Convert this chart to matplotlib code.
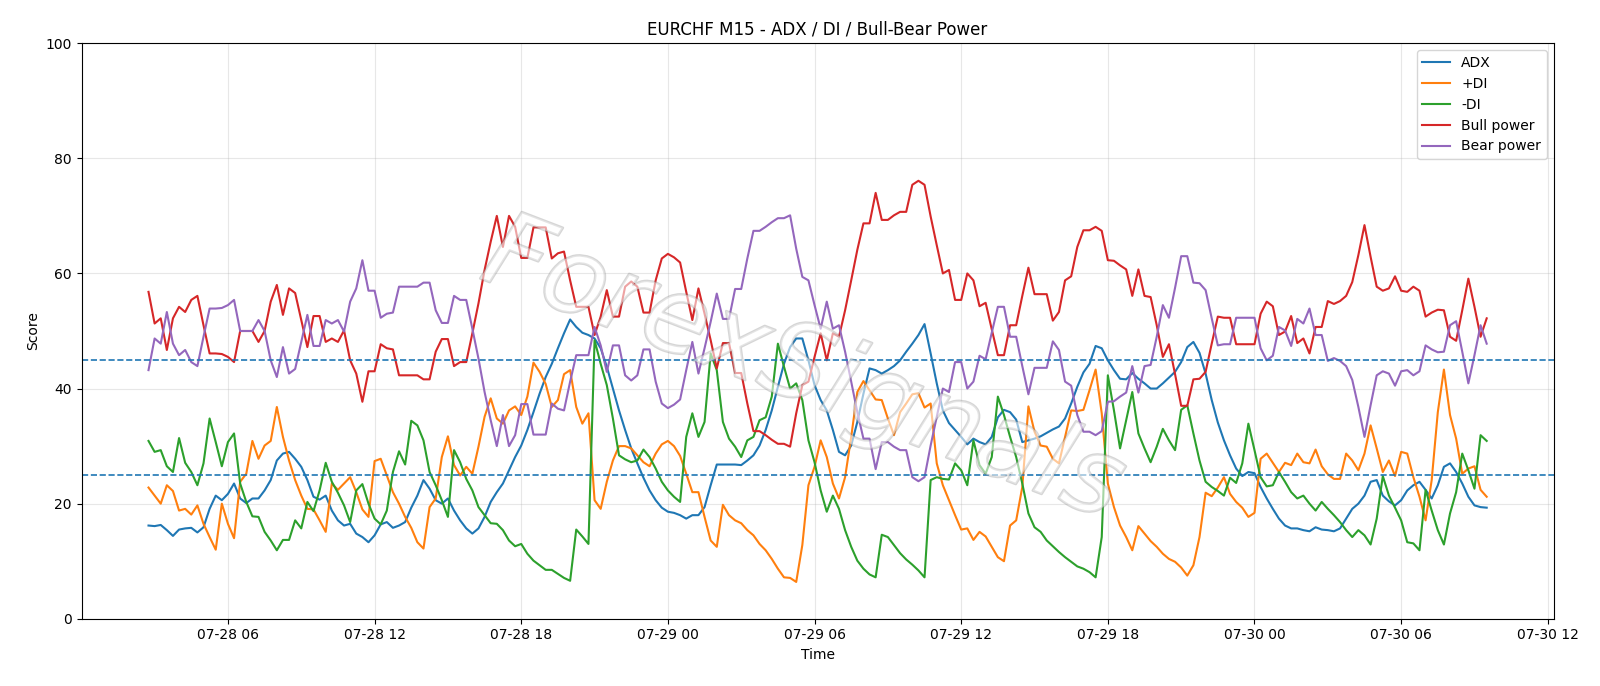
import pandas as pd
import matplotlib
matplotlib.use("Agg")
import matplotlib.pyplot as plt
import matplotlib.dates as mdates
import matplotlib.patheffects as pe

# EURCHF M15 bars, 07-28 02:45 -> 07-30 09:30
start_time = "2025-07-28 02:45"
bar_freq = "15min"

adx = [
    16.2, 16.1, 16.3, 15.4, 14.4, 15.5, 15.7, 15.8, 15.0, 15.9, 19.1, 21.4, 20.6, 21.7, 23.5, 20.9, 20.1, 20.9, 20.9, 22.3, 24.1, 27.5,
    28.7, 29.0, 27.8, 26.4, 24.1, 21.2, 20.7, 21.4, 18.8, 17.1, 16.2, 16.5, 14.8, 14.2, 13.3, 14.5, 16.4, 16.8, 15.8, 16.2, 16.8, 19.3,
    21.4, 24.1, 22.6, 20.6, 20.0, 20.9, 18.8, 17.1, 15.7, 14.8, 15.7, 17.7, 20.3, 22.0, 23.5, 25.8, 28.1, 30.1, 32.8, 35.9, 39.1, 42.0,
    44.3, 47.0, 49.6, 52.0, 50.7, 49.7, 49.3, 48.7, 47.0, 43.8, 40.0, 36.2, 32.8, 29.6, 27.0, 24.5, 22.3, 20.6, 19.3, 18.6, 18.4, 18.0,
    17.4, 18.0, 18.0, 19.4, 23.2, 26.8, 26.8, 26.8, 26.8, 26.7, 27.5, 28.4, 30.1, 32.8, 36.2, 40.3, 44.3, 47.2, 48.7, 48.7, 44.9, 40.6,
    38.0, 36.2, 32.8, 29.0, 28.4, 30.1, 34.2, 39.1, 43.5, 43.2, 42.6, 43.2, 43.9, 44.9, 46.4, 47.8, 49.3, 51.2, 46.1, 40.9, 36.2, 34.0,
    32.8, 31.6, 30.3, 31.3, 30.7, 30.3, 31.6, 35.0, 36.3, 35.9, 34.6, 30.7, 31.0, 31.3, 31.7, 32.3, 32.9, 33.4, 34.8, 37.4, 40.3, 42.8,
    44.3, 47.4, 47.0, 44.9, 43.2, 41.7, 41.6, 42.7, 41.7, 40.9, 40.0, 40.0, 40.9, 41.9, 42.9, 44.6, 47.2, 48.1, 46.2, 42.6, 38.0, 34.1,
    31.0, 28.4, 26.1, 24.8, 25.5, 25.3, 22.9, 20.9, 19.1, 17.4, 16.2, 15.7, 15.7, 15.4, 15.2, 15.9, 15.5, 15.4, 15.2, 15.7, 17.4, 19.1,
    20.0, 21.4, 23.8, 24.1, 21.4, 20.4, 19.7, 20.6, 22.3, 23.2, 23.8, 22.4, 20.9, 23.2, 26.4, 27.0, 25.5, 23.5, 21.2, 19.7, 19.4, 19.3,
]

plus_di = [
    22.8, 21.4, 20.0, 23.2, 22.2, 18.8, 19.1, 18.1, 19.7, 16.5, 14.2, 12.0, 20.0, 16.5, 14.0, 23.8, 25.2, 30.9, 27.8, 30.1, 30.9, 36.8,
    31.6, 27.5, 24.1, 21.4, 19.1, 19.0, 17.1, 15.1, 23.5, 22.4, 23.5, 24.6, 22.0, 19.0, 17.7, 27.4, 27.8, 24.9, 22.0, 20.0, 17.7, 15.8,
    13.3, 12.2, 19.4, 20.9, 28.1, 31.7, 26.7, 24.9, 26.4, 25.2, 29.9, 35.1, 38.3, 34.8, 33.9, 36.2, 36.9, 35.4, 38.6, 44.5, 42.9, 40.8,
    36.8, 38.0, 42.5, 43.2, 36.8, 33.9, 35.7, 20.6, 19.1, 23.8, 27.5, 30.0, 30.0, 29.6, 28.4, 27.2, 26.5, 28.7, 30.3, 30.9, 30.0, 28.3,
    25.2, 22.0, 22.0, 17.7, 13.6, 12.5, 19.8, 18.0, 17.1, 16.6, 15.4, 14.5, 13.0, 11.9, 10.4, 8.7, 7.2, 7.1, 6.4, 12.8, 23.2, 26.4,
    31.0, 28.1, 23.5, 20.9, 24.6, 31.6, 39.4, 41.3, 39.7, 38.1, 38.0, 34.8, 31.9, 35.9, 37.4, 39.0, 39.2, 36.7, 37.4, 27.0, 23.2, 20.6,
    18.0, 15.5, 15.7, 13.7, 15.1, 14.3, 12.5, 10.7, 10.0, 16.2, 17.1, 22.9, 36.9, 32.5, 30.1, 29.9, 27.8, 27.0, 31.6, 36.2, 36.1, 36.3,
    39.7, 43.3, 35.7, 23.5, 19.4, 16.2, 14.2, 11.9, 16.1, 14.8, 13.5, 12.5, 11.3, 10.4, 9.9, 8.9, 7.5, 9.3, 14.2, 21.9, 21.3, 22.8,
    24.6, 21.7, 20.3, 19.3, 17.7, 18.4, 27.8, 28.7, 27.1, 25.5, 27.1, 26.7, 28.7, 27.2, 27.0, 29.4, 26.5, 25.1, 24.3, 24.3, 28.7, 27.5,
    25.8, 28.7, 33.6, 29.6, 25.5, 27.5, 24.8, 29.0, 28.7, 24.6, 21.2, 17.1, 24.1, 35.9, 43.3, 35.4, 31.3, 25.2, 26.1, 26.5, 22.4, 21.2,
]

minus_di = [
    30.9, 29.0, 29.3, 26.5, 25.5, 31.4, 27.1, 25.5, 23.2, 27.0, 34.8, 30.7, 26.5, 30.7, 32.2, 23.5, 20.3, 17.8, 17.7, 15.1, 13.6, 11.9,
    13.7, 13.7, 17.1, 15.7, 20.3, 18.7, 22.3, 27.1, 23.8, 21.9, 19.7, 16.8, 22.3, 23.4, 20.0, 17.4, 16.4, 18.8, 25.5, 29.1, 26.8, 34.4,
    33.6, 31.0, 25.5, 23.2, 20.6, 17.7, 29.3, 27.2, 24.3, 22.3, 19.4, 18.0, 16.6, 16.5, 15.4, 13.6, 12.6, 13.0, 11.3, 10.1, 9.3, 8.5,
    8.5, 7.8, 7.1, 6.6, 15.5, 14.3, 13.0, 48.4, 44.3, 40.6, 34.8, 28.4, 27.7, 27.2, 27.5, 29.4, 28.1, 26.1, 23.8, 22.3, 21.2, 20.3,
    31.6, 35.7, 31.6, 34.2, 46.1, 43.2, 34.2, 31.3, 29.9, 28.1, 31.0, 31.6, 34.5, 35.0, 38.6, 47.8, 43.8, 40.0, 40.9, 38.0, 31.0, 27.2,
    22.3, 18.6, 21.4, 19.1, 15.4, 12.5, 10.1, 8.7, 7.7, 7.2, 14.6, 14.2, 12.8, 11.4, 10.3, 9.4, 8.4, 7.2, 24.1, 24.6, 24.3, 24.2,
    27.0, 25.8, 23.2, 31.0, 26.7, 25.2, 28.1, 38.6, 35.4, 31.6, 28.1, 23.5, 18.3, 15.9, 15.1, 13.6, 12.6, 11.6, 10.7, 9.9, 9.1, 8.7,
    8.1, 7.2, 14.2, 42.3, 36.2, 29.6, 34.5, 39.4, 32.2, 29.6, 27.2, 29.9, 33.0, 31.0, 29.3, 36.3, 37.1, 32.2, 27.5, 23.8, 22.9, 22.2,
    21.4, 24.5, 23.6, 27.0, 33.9, 29.3, 24.6, 23.0, 23.2, 25.5, 23.8, 22.0, 20.9, 21.4, 20.0, 18.8, 20.3, 19.1, 18.0, 16.8, 15.4, 14.2,
    15.4, 14.5, 12.9, 17.4, 24.8, 21.4, 19.3, 17.1, 13.3, 13.1, 11.9, 22.4, 18.8, 15.4, 12.9, 18.3, 22.0, 28.7, 25.8, 22.6, 31.9, 30.9,
]

bull_power = [
    56.8, 51.3, 52.2, 46.7, 52.2, 54.2, 53.3, 55.4, 56.1, 51.0, 46.1, 46.1, 46.0, 45.5, 44.6, 50.0, 50.0, 50.0, 48.1, 50.0, 55.1, 58.0,
    52.8, 57.4, 56.6, 51.9, 47.2, 52.6, 52.6, 48.1, 48.7, 48.1, 50.1, 44.9, 42.6, 37.7, 43.0, 43.0, 47.7, 47.0, 46.8, 42.3, 42.3, 42.3,
    42.3, 41.6, 41.6, 46.4, 48.6, 48.6, 43.9, 44.6, 44.6, 49.6, 54.8, 60.6, 65.5, 70.0, 64.6, 70.0, 68.1, 62.7, 62.7, 68.0, 68.0, 68.0,
    62.6, 63.5, 63.8, 58.8, 54.2, 54.2, 54.2, 49.3, 52.5, 57.1, 52.5, 52.5, 57.7, 58.6, 57.7, 53.2, 53.2, 58.8, 62.6, 63.4, 62.8, 61.9,
    56.8, 51.9, 57.4, 53.0, 48.4, 43.5, 47.9, 47.9, 42.7, 42.7, 37.4, 32.6, 32.6, 31.9, 31.1, 30.4, 30.4, 29.9, 35.7, 40.6, 41.2, 45.5,
    49.6, 44.9, 49.6, 49.0, 53.6, 58.8, 64.1, 68.7, 68.7, 74.0, 69.3, 69.3, 70.1, 70.7, 70.7, 75.4, 76.1, 75.4, 69.9, 64.9, 60.0, 60.6,
    55.4, 55.4, 60.0, 58.8, 54.3, 54.9, 50.3, 45.8, 45.8, 51.0, 51.0, 56.1, 61.0, 56.4, 56.4, 56.4, 51.8, 53.3, 58.8, 59.5, 64.6, 67.5,
    67.5, 68.1, 67.4, 62.3, 62.2, 61.4, 60.7, 56.1, 60.7, 56.1, 55.9, 51.0, 45.5, 47.7, 42.5, 37.0, 37.0, 41.6, 41.7, 42.9, 47.8, 52.5,
    52.3, 52.3, 47.7, 47.7, 47.7, 47.7, 53.0, 55.1, 54.3, 49.3, 49.9, 52.6, 47.9, 48.7, 46.1, 50.7, 50.7, 55.2, 54.7, 55.2, 56.1, 58.5,
    63.2, 68.4, 62.9, 57.7, 57.0, 57.4, 59.5, 57.0, 56.8, 57.7, 57.0, 52.5, 53.2, 53.7, 53.6, 49.0, 48.3, 53.6, 59.1, 54.2, 49.0, 52.2,
]

bear_power = [
    43.2, 48.7, 47.8, 53.3, 47.8, 45.8, 46.7, 44.6, 43.9, 49.0, 53.9, 53.9, 54.0, 54.5, 55.4, 50.0, 50.0, 50.0, 51.9, 50.0, 44.9, 42.0,
    47.2, 42.6, 43.4, 48.1, 52.8, 47.4, 47.4, 51.9, 51.3, 51.9, 49.9, 55.1, 57.4, 62.3, 57.0, 57.0, 52.3, 53.0, 53.2, 57.7, 57.7, 57.7,
    57.7, 58.4, 58.4, 53.6, 51.4, 51.4, 56.1, 55.4, 55.4, 50.4, 45.2, 39.4, 34.5, 30.0, 35.4, 30.0, 31.9, 37.3, 37.3, 32.0, 32.0, 32.0,
    37.4, 36.5, 36.2, 41.2, 45.8, 45.8, 45.8, 50.7, 47.5, 42.9, 47.5, 47.5, 42.3, 41.4, 42.3, 46.8, 46.8, 41.2, 37.4, 36.6, 37.2, 38.1,
    43.2, 48.1, 42.6, 47.0, 51.6, 56.5, 52.1, 52.1, 57.3, 57.3, 62.6, 67.4, 67.4, 68.1, 68.9, 69.6, 69.6, 70.1, 64.3, 59.4, 58.8, 54.5,
    50.4, 55.1, 50.4, 51.0, 46.4, 41.2, 35.9, 31.3, 31.3, 26.0, 30.7, 30.7, 29.9, 29.3, 29.3, 24.6, 23.9, 24.6, 30.1, 35.1, 40.0, 39.4,
    44.6, 44.6, 40.0, 41.2, 45.7, 45.1, 49.7, 54.2, 54.2, 49.0, 49.0, 43.9, 39.0, 43.6, 43.6, 43.6, 48.2, 46.7, 41.2, 40.5, 35.4, 32.5,
    32.5, 31.9, 32.6, 37.7, 37.8, 38.6, 39.3, 43.9, 39.3, 43.9, 44.1, 49.0, 54.5, 52.3, 57.5, 63.0, 63.0, 58.4, 58.3, 57.1, 52.2, 47.5,
    47.7, 47.7, 52.3, 52.3, 52.3, 52.3, 47.0, 44.9, 45.7, 50.7, 50.1, 47.4, 52.1, 51.3, 53.9, 49.3, 49.3, 44.8, 45.3, 44.8, 43.9, 41.5,
    36.8, 31.6, 37.1, 42.3, 43.0, 42.6, 40.5, 43.0, 43.2, 42.3, 43.0, 47.5, 46.8, 46.3, 46.4, 51.0, 51.7, 46.4, 40.9, 45.8, 51.0, 47.8,
]

levels = [25, 45]

times = pd.date_range(start_time, periods=len(adx), freq=bar_freq)

fig, ax = plt.subplots(figsize=(16, 6.86), dpi=100)
fig.subplots_adjust(left=0.051, right=0.971, top=0.937, bottom=0.098)

ax.plot(times, adx, label="ADX", lw=1.5)
ax.plot(times, plus_di, label="+DI", lw=1.5)
ax.plot(times, minus_di, label="-DI", lw=1.5)
ax.plot(times, bull_power, label="Bull power", lw=1.5)
ax.plot(times, bear_power, label="Bear power", lw=1.5)

for lv in levels:
    ax.axhline(lv, color="tab:blue", linestyle="--", lw=1.2)

ax.set_ylim(0, 100)
ax.xaxis.set_major_locator(mdates.HourLocator(byhour=[0, 6, 12, 18]))
ax.xaxis.set_major_formatter(mdates.DateFormatter("%m-%d %H"))
ax.grid(True, alpha=0.3)
ax.set_title("EURCHF M15 - ADX / DI / Bull-Bear Power")
ax.set_xlabel("Time")
ax.set_ylabel("Score")
ax.legend(loc="upper right")

# watermark, faint outlined letters over the lines
ax.text(0.49, 0.43, "ForexSignals", transform=ax.transAxes, fontsize=76,
        style="italic", color="white", alpha=0.35, rotation=-21,
        ha="center", va="center", zorder=10,
        path_effects=[pe.withStroke(linewidth=1.8, foreground="#8a8a8a")])

plt.savefig("out.png", dpi=100)
plt.close()
